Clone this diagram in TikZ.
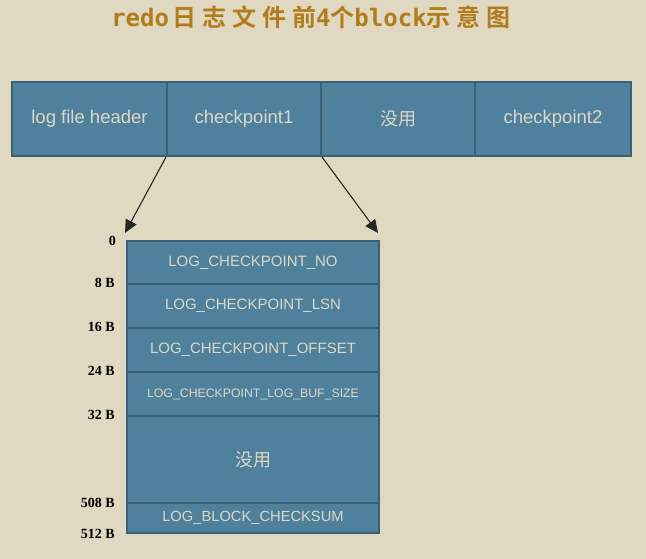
\documentclass[tikz,border=0pt]{standalone}
\usetikzlibrary{arrows.meta}
\usepackage{fontspec}
\setmainfont{Liberation Sans}
\newfontfamily\cjk{Noto Sans CJK SC}
\newfontfamily\cjkb{Noto Sans CJK SC Bold}
\newfontfamily\lblfont{Liberation Serif}
\newfontfamily\ttb{DejaVu Sans Mono}
\definecolor{bgc}{HTML}{E0D8C0}
\definecolor{cellc}{HTML}{4F819C}
\definecolor{edgec}{HTML}{3A6075}
\definecolor{txtc}{HTML}{DCD8C8}
\definecolor{titlec}{HTML}{B07C1C}
\tikzset{
  cell/.style={draw=edgec, line width=2pt, fill=cellc, text=txtc, inner sep=0pt, anchor=north west},
  off/.style={anchor=east, font=\lblfont\bfseries\fontsize{14}{14}\selectfont, text=black, inner sep=0pt},
  arr/.style={-{Triangle[length=13pt,width=12pt]}, line width=1.1pt, black!85}
}
\begin{document}
\begin{tikzpicture}[x=1pt,y=-1pt]
\fill[bgc] (0,0) rectangle (646,559);
\useasboundingbox (0,0) rectangle (646,559);
\node[text=titlec, font=\fontsize{24}{24}\selectfont] (title) at (311,17)
 {{\ttb\bfseries redo}\kern3pt{\cjkb 日\kern6pt志\kern6pt文\kern6pt件\kern6pt前}{\ttb\bfseries 4}{\cjkb 个}{\ttb\bfseries block}{\cjkb 示\kern6pt意\kern6pt图}};
% top row
\node[cell, minimum width=155pt, minimum height=74pt, font=\fontsize{18.5}{18.5}\selectfont] (h) at (11,81) {\raisebox{-1.5pt}{log file header}};
\node[cell, minimum width=154pt, minimum height=74pt, font=\fontsize{18.5}{18.5}\selectfont] (c1) at (166,81) {\raisebox{-1.5pt}{checkpoint1}};
\node[cell, minimum width=154pt, minimum height=74pt, font=\cjk\fontsize{18}{18}\selectfont] (u1) at (320,81) {没用};
\node[cell, minimum width=156pt, minimum height=74pt, font=\fontsize{18.5}{18.5}\selectfont] (c2) at (474,81) {\raisebox{-1.5pt}{checkpoint2}};
% block
\node[cell, minimum width=252pt, minimum height=43pt, font=\fontsize{15}{15}\selectfont] (r1) at (126,240) {LOG\_CHECKPOINT\_NO};
\node[cell, minimum width=252pt, minimum height=44pt, font=\fontsize{15}{15}\selectfont] (r2) at (126,283) {LOG\_CHECKPOINT\_LSN};
\node[cell, minimum width=252pt, minimum height=44pt, font=\fontsize{15}{15}\selectfont] (r3) at (126,327) {LOG\_CHECKPOINT\_OFFSET};
\node[cell, minimum width=252pt, minimum height=44pt, font=\fontsize{12.3}{12.3}\selectfont] (r4) at (126,371) {LOG\_CHECKPOINT\_LOG\_BUF\_SIZE};
\node[cell, minimum width=252pt, minimum height=87pt, font=\cjk\fontsize{18}{18}\selectfont] (r5) at (126,415) {没用};
\node[cell, minimum width=252pt, minimum height=30pt, font=\fontsize{14.7}{14.7}\selectfont] (r6) at (126,502) {LOG\_BLOCK\_CHECKSUM};
% offsets
\node[off] (o0) at (116,241) {0};
\node[off] (o8) at (115,283) {8 B};
\node[off] (o16) at (115,327) {16 B};
\node[off] (o24) at (115,371) {24 B};
\node[off] (o32) at (115,415) {32 B};
\node[off] (o508) at (115,503) {508 B};
\node[off] (o512) at (115,534) {512 B};
% arrows
\coordinate (a1) at (125,233);
\coordinate (a2) at (378,233);
\draw[arr] (c1.south west) -- (a1);
\draw[arr] (c1.south east) -- (a2);
\end{tikzpicture}
\end{document}
